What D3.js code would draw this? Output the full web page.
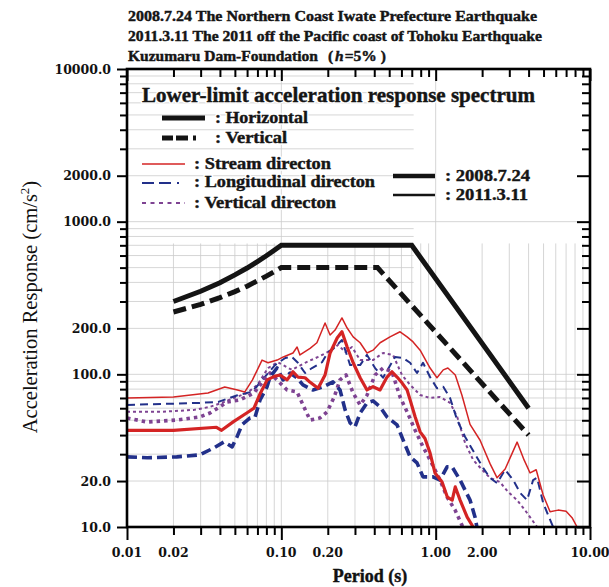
<!DOCTYPE html>
<html><head><meta charset="utf-8">
<script src="https://cdn.jsdelivr.net/npm/d3@7"></script>
<style>body{margin:0;background:#fff}svg{display:block}</style>
</head><body>
<svg id="c" width="609" height="587"></svg>
<script>
// ---------- data ----------
const titleLines = [
  "2008.7.24 The Northern Coast Iwate Prefecture Earthquake",
  "2011.3.11 The 2011 off the Pacific coast of Tohoku Earthquake"
];
const siteLabel = "Kuzumaru Dam-Foundation";
const dampingLabel = ["(", "h", "=5%", ")"];
const legendTitle = "Lower-limit acceleration response spectrum";
const limitLabels = [": Horizontal", ": Vertical"];
const dirLabels = [": Stream directon", ": Longitudinal directon", ": Vertical directon"];
const eventLabels = [": 2008.7.24", ": 2011.3.11"];
const xTicks = [0.01, 0.02, 0.1, 0.2, 1, 2, 10];
const xTickLabels = ["0.01", "0.02", "0.10", "0.20", "1.00", "2.00", "10.00"];
const yTicks = [10, 20, 100, 200, 1000, 2000, 10000];
const yTickLabels = ["10.0", "20.0", "100.0", "200.0", "1000.0", "2000.0", "10000.0"];
const xTitle = "Period (s)";
const yTitle = ["Acceleration Response (cm/s", "2", ")"];

// lower-limit acceleration response spectra [period s, acc cm/s2]
const limitHorizontal = [[0.02,300],[0.03,350],[0.04,398],[0.05,448],[0.06,497],[0.07,548],[0.08,598],[0.09,650],[0.1,700],[0.7,700],[4.0,60]];
const limitVertical = [[0.02,256],[0.03,287],[0.04,318],[0.05,348],[0.06,378],[0.07,410],[0.08,440],[0.09,470],[0.1,500],[0.42,500],[4.0,40]];

// 2008.7.24 (thick)
const stream2008 = [[0.01,43],[0.02,43],[0.038,45],[0.041,43],[0.049,49],[0.06,56],[0.0665,60],[0.073,75],[0.081,92],[0.09,97],[0.098,99],[0.109,92],[0.119,104],[0.128,96],[0.1425,95],[0.153,89],[0.173,81],[0.192,99],[0.207,138],[0.23,173],[0.247,190],[0.267,151],[0.292,119],[0.324,95],[0.359,79],[0.393,83],[0.436,79],[0.484,96],[0.521,104],[0.562,96],[0.605,88],[0.653,79],[0.683,68],[0.735,53],[0.793,42],[0.853,38],[0.92,30.5],[0.99,22.6],[1.1,19.7],[1.19,15.7],[1.28,15],[1.34,18.3],[1.44,15],[1.6,11.6],[1.75,10]];
const longi2008 = [[0.01,28.8],[0.0135,28.4],[0.021,28.8],[0.0297,29.7],[0.0366,33],[0.0425,36.1],[0.048,33.5],[0.0516,38.9],[0.0556,46.7],[0.0627,51.8],[0.0676,52.6],[0.0728,68],[0.0807,82.6],[0.0845,96],[0.0938,110],[0.1026,92],[0.114,102],[0.1265,94.6],[0.138,85.3],[0.16,79],[0.186,82.6],[0.216,89.2],[0.24,79],[0.259,58.5],[0.279,48.1],[0.3,45.2],[0.324,55.8],[0.359,65],[0.393,67],[0.4365,61.2],[0.484,52.6],[0.562,46.7],[0.615,37.2],[0.683,28.8],[0.757,26.3],[0.828,21.3],[0.962,21.3],[1.067,20.3],[1.186,24.8],[1.276,24.8],[1.44,20.3],[1.67,15],[1.8,11.6],[1.85,10]];
const vert2008 = [[0.01,51.8],[0.0135,48.7],[0.021,50.2],[0.0297,52.6],[0.0345,55.8],[0.04,61.2],[0.0445,65.9],[0.054,68],[0.0665,75.5],[0.0773,92],[0.0845,102],[0.0938,92],[0.109,79],[0.1265,76.7],[0.14,61.2],[0.1535,50.2],[0.178,51.8],[0.198,56.8],[0.22,71],[0.24,92],[0.2625,99],[0.292,75.5],[0.324,63],[0.359,73],[0.405,99],[0.456,110],[0.521,104],[0.588,71],[0.653,56.8],[0.735,43.2],[0.828,33.5],[0.92,27.5],[1.067,20.3],[1.186,15.7],[1.336,12.9],[1.5,10]];

// 2011.3.11 (thin)
const stream2011 = [[0.01,70],[0.02,71],[0.0335,75.5],[0.043,82.6],[0.052,79],[0.058,76.7],[0.065,92],[0.075,124],[0.082,119],[0.094,124],[0.103,130],[0.119,138],[0.1265,151],[0.132,134],[0.1535,148],[0.17,161],[0.192,217],[0.207,181],[0.223,195],[0.247,234],[0.267,201],[0.292,176],[0.324,161],[0.359,138],[0.393,144],[0.4365,161],[0.506,176],[0.588,190],[0.653,176],[0.714,163],[0.793,144],[0.92,110],[1.02,95],[1.12,107],[1.2,110],[1.34,99],[1.48,73],[1.67,47],[1.94,37],[2.25,26],[2.5,21],[2.82,24],[3.37,36],[3.74,27.5],[4.09,22.6],[4.48,23.7],[4.97,16.2],[5.51,12.6],[6.21,12.9],[7.0,12.7],[7.65,11.5],[8.25,10]];
const longi2011 = [[0.01,63],[0.0297,65],[0.039,66],[0.052,73],[0.065,77],[0.078,96],[0.091,115],[0.106,128],[0.117,130],[0.128,119],[0.1425,102],[0.158,110],[0.1835,120],[0.201,140],[0.223,151],[0.247,168],[0.279,115],[0.324,115],[0.359,134],[0.405,110],[0.456,95],[0.546,130],[0.615,128],[0.683,119],[0.757,102],[0.828,119],[0.92,96],[1.02,81],[1.12,83],[1.24,70],[1.38,50],[1.55,39],[1.8,30],[2.03,24.4],[2.25,21],[2.5,19.4],[2.82,23.7],[3.18,20.3],[3.53,16.7],[3.91,15],[4.28,20.3],[4.54,21],[4.97,14.4],[5.35,12],[5.77,10]];
const vert2011 = [[0.01,56.8],[0.0164,56.8],[0.0272,58.5],[0.0345,61.2],[0.0425,65.9],[0.0493,70],[0.06,75.5],[0.07,85.3],[0.082,110],[0.095,120],[0.117,107],[0.1425,119],[0.173,130],[0.213,144.5],[0.233,156],[0.259,140],[0.287,151],[0.324,124],[0.393,124],[0.456,138],[0.529,134],[0.605,99],[0.683,85.3],[0.793,73.3],[0.92,70],[1.067,71],[1.24,65],[1.38,52.6],[1.55,35.6],[1.75,27.5],[2.0,23.7],[2.25,21],[2.61,19.7],[2.94,17],[3.37,15],[3.79,12.9],[4.22,11.1],[4.54,10]];

// ---------- chart ----------
const L = 127, R = 590, T = 69, B = 527;
const RED = "#d42424", BLUE = "#22308a", PURPLE = "#7e4392", BLACK = "#141414";
const SERIF = "'Liberation Serif','Times New Roman',serif";
const TICKFONT = "'DejaVu Serif',serif";

const svg = d3.select("#c");
const x = d3.scaleLog().domain([0.01, 10]).range([L, R]);
const y = d3.scaleLog().domain([10, 10000]).range([B, T]);

const xMinor = [];
[0.01, 0.1, 1].forEach(d => { for (let k = 1; k <= 9; k++) xMinor.push(+(d * k).toPrecision(3)); });
xMinor.push(10);
const yMinor = [];
[10, 100, 1000].forEach(d => { for (let k = 1; k <= 9; k++) yMinor.push(+(d * k).toPrecision(3)); });
yMinor.push(10000);
const xDecades = [0.01, 0.1, 1, 10];
const yDecades = [10, 100, 1000, 10000];

// grid
const grid = svg.append("g").attr("stroke", "#cbcbcb").attr("stroke-width", 0.8);
xMinor.filter(v => v > 0.01 && v < 10).forEach(v => {
  const major = xDecades.includes(v);
  grid.append("line").attr("x1", x(v)).attr("x2", x(v))
    .attr("y1", major ? T : y(720)).attr("y2", B);
});
yMinor.filter(v => v > 10 && v < 10000).forEach(v => {
  const full = yDecades.includes(v) || v < 100;
  grid.append("line").attr("y1", y(v)).attr("y2", y(v))
    .attr("x1", L).attr("x2", full ? R : x(0.72));
});

// clip
svg.append("clipPath").attr("id", "clip").append("rect")
  .attr("x", L).attr("y", T).attr("width", R - L).attr("height", B - T);

const line = d3.line().x(d => x(d[0])).y(d => y(d[1]));
const plot = svg.append("g").attr("clip-path", "url(#clip)").attr("fill", "none");

const series = [
  { data: vert2011, color: PURPLE, w: 2, dash: "3,3" },
  { data: longi2011, color: BLUE, w: 2, dash: "8,5" },
  { data: stream2011, color: RED, w: 1.5, dash: null },
  { data: vert2008, color: PURPLE, w: 3.6, dash: "3.5,4" },
  { data: longi2008, color: BLUE, w: 3.6, dash: "10,5" },
  { data: stream2008, color: RED, w: 3.2, dash: null }
];
series.forEach(s => {
  plot.append("path").datum(s.data).attr("d", line)
    .attr("stroke", s.color).attr("stroke-width", s.w)
    .attr("stroke-dasharray", s.dash).attr("stroke-linejoin", "round");
});
plot.append("path").datum(limitHorizontal).attr("d", line)
  .attr("stroke", BLACK).attr("stroke-width", 5);
plot.append("path").datum(limitVertical).attr("d", line)
  .attr("stroke", BLACK).attr("stroke-width", 5).attr("stroke-dasharray", "13,6");

// axes ticks
function tickAxis(axisFn, scale, vals, size, tf) {
  const g = svg.append("g").attr("transform", tf)
    .call(axisFn(scale).tickValues(vals).tickSize(size).tickFormat(""));
  g.select(".domain").remove();
  g.selectAll("line").attr("stroke", "#000").attr("stroke-width", 2);
  return g;
}
const xMinorOnly = xMinor.filter(v => !xDecades.includes(v));
const yMinorOnly = yMinor.filter(v => !yTicks.includes(v));
tickAxis(d3.axisBottom, x, xMinorOnly, 8, `translate(0,${B})`);
tickAxis(d3.axisBottom, x, xDecades, 13, `translate(0,${B})`);
tickAxis(d3.axisTop, x, xMinorOnly, -8, `translate(0,${T})`);
tickAxis(d3.axisTop, x, xDecades, -12, `translate(0,${T})`);
tickAxis(d3.axisLeft, y, yMinorOnly, 7, `translate(${L},0)`);
tickAxis(d3.axisLeft, y, yTicks, 10, `translate(${L},0)`);
tickAxis(d3.axisRight, y, yMinorOnly, -8, `translate(${R},0)`);
tickAxis(d3.axisRight, y, yTicks, -13, `translate(${R},0)`);

// frame
svg.append("rect").attr("x", L).attr("y", T).attr("width", R - L).attr("height", B - T)
  .attr("fill", "none").attr("stroke", "#000").attr("stroke-width", 2.6);

// tick labels
svg.append("g").selectAll("text").data(xTicks).join("text")
  .attr("x", d => x(d)).attr("y", 557).attr("text-anchor", "middle")
  .attr("font-family", TICKFONT).attr("font-weight", "bold").attr("font-size", 12.5)
  .attr("fill", "#111").text((d, i) => xTickLabels[i]);
svg.append("g").selectAll("text").data(yTicks).join("text")
  .attr("x", 111).attr("y", d => y(d) + 4.5).attr("text-anchor", "end")
  .attr("font-family", TICKFONT).attr("font-weight", "bold").attr("font-size", 12.5)
  .attr("fill", "#111").text((d, i) => yTickLabels[i]);

// axis titles
svg.append("text").attr("x", 370).attr("y", 582).attr("text-anchor", "middle")
  .attr("font-family", SERIF).attr("font-weight", "bold").attr("font-size", 18)
  .attr("fill", "#111").attr("stroke", "#111").attr("stroke-width", 0.4).text(xTitle);
const yt = svg.append("text").attr("transform", "translate(37,307) rotate(-90)")
  .attr("text-anchor", "middle").attr("font-family", SERIF).attr("font-size", 20.5)
  .attr("fill", "#111");
yt.append("tspan").text(yTitle[0]);
yt.append("tspan").attr("font-size", 13).attr("dy", -8).text(yTitle[1]);
yt.append("tspan").attr("dy", 8).text(yTitle[2]);

// titles
function txt(s, px, py, size, len) {
  const t = svg.append("text").attr("x", px).attr("y", py)
    .attr("font-family", SERIF).attr("font-weight", "bold").attr("font-size", size)
    .attr("fill", "#151515").text(s);
  if (len) t.attr("textLength", len).attr("lengthAdjust", "spacingAndGlyphs");
  return t;
}
txt(titleLines[0], 128, 21, 15.5, 409).attr("stroke", "#151515").attr("stroke-width", 0.45);
txt(titleLines[1], 128, 41, 15.5, 414).attr("stroke", "#151515").attr("stroke-width", 0.45);
const t3 = svg.append("text").attr("x", 128).attr("y", 61)
  .attr("font-family", SERIF).attr("font-weight", "bold").attr("font-size", 15.5)
  .attr("fill", "#151515").attr("stroke", "#151515").attr("stroke-width", 0.45);
t3.append("tspan").text(siteLabel);
t3.append("tspan").attr("dx", 10).text(dampingLabel[0]);
t3.append("tspan").attr("font-style", "italic").attr("dx", 2).text(dampingLabel[1]);
t3.append("tspan").attr("dx", 1).text(dampingLabel[2]);
t3.append("tspan").attr("dx", 4).text(dampingLabel[3]);

// legend (white halo behind, dark text on top)
function ltxt(s, px, py, size, len) {
  txt(s, px, py, size, len).attr("fill", "#fff").attr("stroke", "#fff").attr("stroke-width", 3);
  return txt(s, px, py, size, len).attr("stroke", "#151515").attr("stroke-width", 0.4);
}
ltxt(legendTitle, 142, 102, 20, 393);
ltxt(limitLabels[0], 215, 123, 16, 93);
ltxt(limitLabels[1], 215, 143, 16, 72);
ltxt(dirLabels[0], 194, 169, 16, 137);
ltxt(dirLabels[1], 194, 187, 16, 181);
ltxt(dirLabels[2], 194, 208, 16, 142);
ltxt(eventLabels[0], 445, 181, 16, 85);
ltxt(eventLabels[1], 445, 200, 16, 83);

const lg = svg.append("g").attr("fill", "none");
lg.append("line").attr("x1", 162).attr("x2", 205).attr("y1", 118).attr("y2", 118)
  .attr("stroke", BLACK).attr("stroke-width", 5);
lg.append("line").attr("x1", 162).attr("x2", 196).attr("y1", 138).attr("y2", 138)
  .attr("stroke", BLACK).attr("stroke-width", 5).attr("stroke-dasharray", "11,3,12,5,3,30");
lg.append("line").attr("x1", 142).attr("x2", 185).attr("y1", 164).attr("y2", 164)
  .attr("stroke", RED).attr("stroke-width", 1.6);
lg.append("line").attr("x1", 142).attr("x2", 182).attr("y1", 183).attr("y2", 183)
  .attr("stroke", BLUE).attr("stroke-width", 2.2).attr("stroke-dasharray", "12,5,12,6,2,30");
lg.append("line").attr("x1", 142).attr("x2", 185).attr("y1", 203).attr("y2", 203)
  .attr("stroke", PURPLE).attr("stroke-width", 2).attr("stroke-dasharray", "4,4.5");
lg.append("line").attr("x1", 393).attr("x2", 435).attr("y1", 176).attr("y2", 176)
  .attr("stroke", BLACK).attr("stroke-width", 4.5);
lg.append("line").attr("x1", 393).attr("x2", 435).attr("y1", 195).attr("y2", 195)
  .attr("stroke", BLACK).attr("stroke-width", 2.5);
</script>
</body></html>
